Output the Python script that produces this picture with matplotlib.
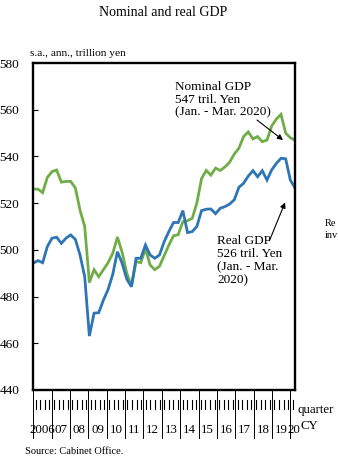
import matplotlib
matplotlib.use('Agg')
import numpy as np
import matplotlib.pyplot as plt

plt.rcParams['font.family'] = ['Liberation Serif', 'DejaVu Serif']

# quarterly, 2006 Q1 - 2020 Q1, s.a. annualised, trillion yen
nominal = [526.0, 526.0, 524.5, 531.0, 533.5, 534.2, 529.0, 529.3, 529.3, 526.5,
           517.0, 510.0, 486.0, 491.5, 488.5, 491.5, 494.5, 498.5, 505.5, 499.0,
           490.0, 484.5, 495.0, 494.5, 500.5, 493.5, 491.5, 493.0, 497.5, 502.0,
           506.0, 506.5, 512.0, 512.5, 513.5, 520.0, 530.5, 534.0, 532.0, 535.0,
           534.0, 535.5, 537.5, 541.0, 543.5, 548.5, 550.5, 547.5, 548.5, 546.3,
           547.0, 553.0, 556.0, 558.0, 550.0, 548.0, 547.0]
real = [494.3, 495.4, 494.5, 501.4, 505.0, 505.4, 502.8, 505.0, 506.4, 504.5,
        497.8, 488.5, 463.1, 472.9, 473.1, 478.5, 483.0, 489.5, 499.2, 494.3,
        487.5, 484.2, 496.4, 496.4, 502.1, 497.8, 496.4, 497.8, 503.5, 507.8,
        511.7, 511.7, 516.8, 507.4, 507.8, 510.0, 516.8, 517.4, 517.5, 515.5,
        517.8, 518.5, 519.6, 521.4, 526.8, 528.5, 531.6, 533.9, 531.3, 533.9,
        529.9, 534.2, 537.0, 539.2, 539.0, 529.9, 526.5]
year_labels = ['2006', '07', '08', '09', '10', '11', '12', '13', '14',
               '15', '16', '17', '18', '19', '20']
yticks = [440, 460, 480, 500, 520, 540, 560, 580]

W, H = 338, 462
fig = plt.figure(figsize=(W / 100, H / 100), dpi=100)

left, right, top, bottom = 33.3, 295, 63, 390
ax = fig.add_axes([left / W, 1 - bottom / H, (right - left) / W, (bottom - top) / H])

x = np.arange(len(nominal)) + 0.5
ax.plot(x, nominal, color='#70AD47', lw=2.0, solid_joinstyle='miter')
ax.plot(x, real, color='#2E75B6', lw=2.0, solid_joinstyle='miter')

ax.set_xlim(0.5, len(nominal) - 0.5)
ax.set_ylim(440, 580)
ax.set_xticks([])
ax.set_yticks(yticks)
ax.tick_params(axis='y', direction='in', length=3.5, width=0.8, pad=10,
               labelsize=9.5)
for s in ax.spines.values():
    s.set_linewidth(1.7)

ax.text(30.8, 572.5, 'Nominal GDP\n547 tril. Yen\n(Jan. - Mar. 2020)',
        fontsize=9.5, va='top', ha='left', linespacing=1.12)
ax.annotate('', xy=(54.4, 546.3), xytext=(47.9, 556.3),
            arrowprops=dict(arrowstyle='-|>', lw=0.8, color='black', mutation_scale=8))
ax.text(39.8, 506.5, 'Real GDP\n526 tril. Yen\n(Jan. - Mar.\n2020)',
        fontsize=9.5, va='top', ha='left', linespacing=1.12)
ax.annotate('', xy=(54.6, 521.4), xytext=(50.8, 502.8),
            arrowprops=dict(arrowstyle='-|>', lw=0.8, color='black', mutation_scale=8))

# quarter / year strip under the chart
sb = 442
bx = fig.add_axes([left / W, 1 - sb / H, (right - left) / W, (sb - bottom) / H])
bx.set_xlim(0, len(nominal))
bx.set_ylim(0, 1)
bx.axis('off')
n_years = len(year_labels)
for k in range(n_years):
    bx.plot([4 * k, 4 * k], [0.08, 1], color='black', lw=0.7)
bx.plot([len(nominal), len(nominal)], [0.08, 1], color='black', lw=0.7)
for q in range(len(nominal)):
    bx.plot([q + 0.5, q + 0.5], [0.64, 0.81], color='black', lw=0.8)
for k, lab in enumerate(year_labels):
    c = 4 * k + 2 if k < n_years - 1 else 4 * k + 0.65
    bx.text(c, 0.23, lab, ha='center', va='center', fontsize=9.3)

fig.text(297 / W, 1 - 410 / H, 'quarter', fontsize=9.3, ha='left', va='center')
fig.text(300.5 / W, 1 - 426 / H, 'CY', fontsize=9.3, ha='left', va='center')

fig.text(163.5 / W, 1 - 12 / H, 'Nominal and real GDP', fontsize=10, ha='center', va='center')
fig.text(30 / W, 1 - 53 / H, 's.a., ann., trillion yen', fontsize=8.2, ha='left', va='center')
fig.text(25 / W, 1 - 451 / H, 'Source: Cabinet Office.', fontsize=7.5, ha='left', va='center')

fig.text(325 / W, 1 - 224 / H, 'Re', fontsize=7.5, ha='left', va='center')
fig.text(325 / W, 1 - 236 / H, 'inv', fontsize=7.5, ha='left', va='center')

fig.savefig('out.png', dpi=100)
